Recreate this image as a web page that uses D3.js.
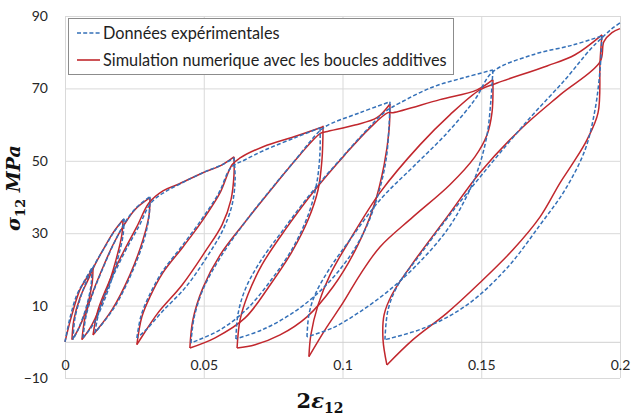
<!DOCTYPE html>
<html><head><meta charset="utf-8">
<script src="https://cdn.jsdelivr.net/npm/d3@7"></script>
<style>body{margin:0;background:#fff} svg{display:block}</style>
</head><body>
<svg id="c" width="631" height="417"></svg>
<script>
const xTicks = [0, 0.05, 0.1, 0.15, 0.2];
const xTickLabels = ["0", "0.05", "0.1", "0.15", "0.2"];
const yTicks = [-10, 10, 30, 50, 70, 90];
const seriesNames = ["Données expérimentales", "Simulation numerique avec les boucles additives"];

// Experimental data: branches in loading order [2ε12, σ12]
const experimental = [
  [[0,0],[0.0018,6.6],[0.0043,13.0],[0.0072,17.1],[0.0097,20.4]],
  [[0.0097,20.4],[0.0094,15.7],[0.0076,9.4],[0.0050,3.9],[0.0029,0.6]],
  [[0.0029,0.6],[0.0036,6.6],[0.0058,12.7],[0.0083,17.7],[0.0112,22.1],[0.0144,26.2],[0.0177,30.4],[0.0213,34.0]],
  [[0.0213,34.0],[0.0209,29.3],[0.0187,22.1],[0.0148,12.7],[0.0101,4.7],[0.0065,1.1]],
  [[0.0065,1.1],[0.0076,7.2],[0.0101,13.5],[0.0137,20.4],[0.0177,27.3],[0.0216,32.9],[0.0256,37.0],[0.0306,40.1]],
  [[0.0306,40.1],[0.0303,34.8],[0.0285,28.2],[0.0241,19.1],[0.0177,9.4],[0.0108,2.5]],
  [[0.0108,2.5],[0.0126,9.4],[0.0169,17.4],[0.0216,24.9],[0.0267,32.0],[0.0310,38.4],[0.0360,41.4],[0.0414,43.6],[0.0505,47.0],[0.0566,48.9],[0.0609,50.8]],
  [[0.0609,50.8],[0.0613,44.8],[0.0602,37.8],[0.0569,30.9],[0.0512,23.5],[0.0436,15.2],[0.0350,8.3],[0.0292,3.3],[0.0259,1.1]],
  [[0.0259,1.1],[0.0274,7.2],[0.0303,12.7],[0.0350,19.3],[0.0422,26.5],[0.0494,34.0],[0.0555,41.2],[0.0598,48.1],[0.0649,50.3],[0.0721,53.0],[0.0836,56.6],[0.0919,59.1]],
  [[0.0919,59.1],[0.0919,52.5],[0.0908,44.2],[0.0879,35.6],[0.0825,26.5],[0.0746,17.4],[0.0656,9.1],[0.0559,3.3],[0.0454,-0.3]],
  [[0.0454,-0.3],[0.0465,6.6],[0.0497,14.4],[0.0559,23.2],[0.0649,33.1],[0.0746,42.5],[0.0836,50.8],[0.0901,56.9],[0.0937,59.4],[0.1063,63.3],[0.1171,66.3]],
  [[0.1171,66.3],[0.1168,59.9],[0.1157,50.3],[0.1128,40.6],[0.1081,30.9],[0.1009,21.8],[0.0912,13.5],[0.0811,7.5],[0.0710,3.3],[0.0616,0.8]],
  [[0.0616,0.8],[0.0623,7.5],[0.0649,14.4],[0.0703,22.1],[0.0786,30.9],[0.0890,41.4],[0.0991,50.3],[0.1081,58.0],[0.1153,63.5],[0.1207,66.0],[0.1326,70.4],[0.1449,73.2],[0.1542,75.1]],
  [[0.1542,75.1],[0.1535,66.9],[0.1521,57.2],[0.1488,47.5],[0.1441,39.2],[0.1377,30.9],[0.1279,22.1],[0.1171,14.4],[0.1063,8.3],[0.0966,3.9],[0.0872,1.4]],
  [[0.0872,1.4],[0.0879,7.5],[0.0901,13.0],[0.0955,20.4],[0.1027,28.2],[0.1135,39.2],[0.1254,48.3],[0.1377,57.7],[0.1477,66.9],[0.1542,74.6],[0.1686,79.3],[0.1831,82.0],[0.1935,84.5]],
  [[0.1935,84.5],[0.1928,75.1],[0.1910,64.1],[0.1874,53.0],[0.1802,42.0],[0.1712,32.3],[0.1593,20.4],[0.1449,10.2],[0.1297,3.9],[0.1153,0.6]],
  [[0.1153,0.6],[0.1164,8.8],[0.1200,15.7],[0.1279,24.0],[0.1387,35.1],[0.1532,48.9],[0.1676,61.9],[0.1802,72.4],[0.1892,80.7],[0.1935,84.0],[0.1971,86.5],[0.2,88.1]]
];

// Numerical simulation: branches in loading order [2ε12, σ12]
const simulation = [
  [[0,0],[0.0025,7.5],[0.0054,14.4],[0.0083,18.2],[0.0101,20.4]],
  [[0.0101,20.4],[0.0097,15.7],[0.0076,8.8],[0.0047,3.3],[0.0025,0.6]],
  [[0.0025,0.6],[0.0032,6.1],[0.0054,12.2],[0.0083,17.1],[0.0108,21.3],[0.0137,25.4],[0.0173,30.1],[0.0209,33.7]],
  [[0.0209,33.7],[0.0205,29.6],[0.0184,22.7],[0.0144,13.0],[0.0097,4.7],[0.0061,0.6]],
  [[0.0061,0.6],[0.0072,6.6],[0.0097,13.0],[0.0133,19.9],[0.0173,26.8],[0.0213,32.3],[0.0252,36.5],[0.0306,39.8]],
  [[0.0306,39.8],[0.0303,35.1],[0.0281,28.2],[0.0234,18.5],[0.0169,8.8],[0.0101,1.9]],
  [[0.0101,1.9],[0.0119,8.8],[0.0162,17.1],[0.0209,24.6],[0.0259,31.8],[0.0303,38.4],[0.0353,41.7],[0.0404,43.4],[0.0497,46.7],[0.0559,48.6],[0.0609,51.1]],
  [[0.0609,51.1],[0.0609,46.1],[0.0598,39.2],[0.0566,32.3],[0.0505,24.9],[0.0422,15.7],[0.0335,8.0],[0.0277,1.4],[0.0259,-0.8]],
  [[0.0259,-0.8],[0.0277,6.9],[0.0306,12.4],[0.0353,19.1],[0.0425,26.2],[0.0497,33.7],[0.0559,41.2],[0.0602,48.9],[0.0631,50.8],[0.0714,53.9],[0.0836,56.9],[0.0930,59.4]],
  [[0.0930,59.7],[0.0926,50.3],[0.0912,42.0],[0.0876,33.7],[0.0818,24.9],[0.0739,15.7],[0.0649,6.6],[0.0541,1.1],[0.0450,-1.7]],
  [[0.0450,-1.7],[0.0461,6.1],[0.0497,14.9],[0.0559,24.0],[0.0649,33.1],[0.0757,43.4],[0.0847,51.7],[0.0919,57.5],[0.0940,58.0],[0.1045,59.9],[0.1124,61.9],[0.1171,65.7]],
  [[0.1171,65.7],[0.1168,58.6],[0.1150,48.9],[0.1114,37.8],[0.1052,26.2],[0.0966,15.2],[0.0872,6.9],[0.0775,1.9],[0.0685,-0.8],[0.0620,-1.7]],
  [[0.0620,-1.7],[0.0631,6.1],[0.0659,13.0],[0.0710,21.3],[0.0793,30.9],[0.0901,42.0],[0.1009,51.7],[0.1099,59.1],[0.1164,63.3],[0.1182,63.3],[0.1351,66.9],[0.1485,69.6],[0.1542,72.4]],
  [[0.1542,72.4],[0.1539,63.5],[0.1521,57.2],[0.1477,51.1],[0.1387,43.4],[0.1254,34.5],[0.1135,26.2],[0.1063,18.5],[0.1002,10.8],[0.0937,3.3],[0.0879,-4.1]],
  [[0.0879,-4.1],[0.0886,1.9],[0.0912,10.2],[0.0955,18.5],[0.1027,28.2],[0.1135,41.2],[0.1279,54.4],[0.1387,62.7],[0.1495,69.6],[0.1557,71.5],[0.1737,76.2],[0.1838,79.3],[0.1935,84.8]],
  [[0.1935,84.8],[0.1928,77.3],[0.1921,63.3],[0.1881,55.8],[0.1831,49.4],[0.1784,43.9],[0.1712,34.5],[0.1614,25.4],[0.1495,16.3],[0.1377,8.0],[0.1254,0.6],[0.1160,-6.4]],
  [[0.1160,-6.4],[0.1146,0.6],[0.1150,7.5],[0.1178,13.0],[0.1254,21.8],[0.1377,34.5],[0.1495,46.7],[0.1640,58.6],[0.1784,68.2],[0.1928,77.3],[0.1942,82.9],[0.1971,85.4],[0.2,86.5]]
];

const colors = {exp: "#3470b8", sim: "#c1272d"};
const svg = d3.select("#c");
const x = d3.scaleLinear().domain([0, 0.2]).range([65, 620]);
const y = d3.scaleLinear().domain([-10, 90]).range([378, 16]);

// gridlines
svg.append("g").attr("transform", `translate(${x(0)},0)`)
  .call(d3.axisLeft(y).tickValues(yTicks).tickSize(-(x(0.2) - x(0))).tickFormat(""))
  .call(g => g.select(".domain").remove())
  .call(g => g.selectAll("line").attr("stroke", "#d9d9d9").attr("stroke-width", 1));
svg.append("g").attr("transform", `translate(0,${y(-10)})`)
  .call(d3.axisBottom(x).tickValues(xTicks).tickSize(-(y(-10) - y(90))).tickFormat(""))
  .call(g => g.select(".domain").remove())
  .call(g => g.selectAll("line").attr("stroke", "#d9d9d9").attr("stroke-width", 1));

// horizontal axis at 0 with labels
svg.append("g").attr("transform", `translate(0,${y(0)})`)
  .call(d3.axisBottom(x).tickValues(xTicks).tickFormat((d, i) => xTickLabels[i]).tickSize(0).tickPadding(18))
  .call(g => g.select(".domain").attr("stroke", "#d0d0d0"))
  .call(g => g.selectAll("text").attr("font-family", "Lato, 'Open Sans', sans-serif").attr("font-size", 14).attr("fill", "#262626"));

// vertical axis labels
svg.append("g").attr("transform", `translate(${x(0)},0)`)
  .call(d3.axisLeft(y).tickValues(yTicks).tickSize(0).tickPadding(17))
  .call(g => g.select(".domain").remove())
  .call(g => g.selectAll("text").attr("font-family", "Lato, 'Open Sans', sans-serif").attr("font-size", 14).attr("fill", "#262626"));

const line = d3.line().x(d => x(d[0])).y(d => y(d[1])).curve(d3.curveCatmullRom.alpha(0.5));

svg.append("g").selectAll("path").data(simulation).join("path")
  .attr("d", line).attr("fill", "none").attr("stroke", colors.sim).attr("stroke-width", 1.5)
  .attr("stroke-linejoin", "round");
svg.append("g").selectAll("path").data(experimental).join("path")
  .attr("d", line).attr("fill", "none").attr("stroke", colors.exp).attr("stroke-width", 1.5)
  .attr("stroke-dasharray", "4,2.2");

// legend
const lg = svg.append("g");
lg.append("rect").attr("x", 68.5).attr("y", 18.5).attr("width", 385).attr("height", 56)
  .attr("fill", "#fff").attr("stroke", "#8c8c8c").attr("stroke-width", 1);
const legendItems = [
  {name: seriesNames[0], color: colors.exp, dash: "4,2.2", cy: 33},
  {name: seriesNames[1], color: colors.sim, dash: null, cy: 60}
];
legendItems.forEach(it => {
  lg.append("line").attr("x1", 77).attr("x2", 100).attr("y1", it.cy).attr("y2", it.cy)
    .attr("stroke", it.color).attr("stroke-width", 1.6).attr("stroke-dasharray", it.dash);
  it.t = lg.append("text").attr("x", 103).attr("y", it.cy).attr("dy", "0.35em")
    .attr("font-family", "Lato, 'Open Sans', sans-serif").attr("font-size", 14).attr("fill", "#1e1e1e").text(it.name);
});
const L = legendItems[1].t.node().getComputedTextLength();
const fs = 14 * 344 / L;
legendItems.forEach(it => it.t.attr("font-size", fs));

// axis titles
const serif = "'DejaVu Serif', 'Liberation Serif', serif";
const yt = svg.append("text").attr("transform", "translate(20,188) rotate(-90)")
  .attr("text-anchor", "middle").attr("font-family", serif).attr("font-weight", "bold")
  .attr("font-size", 19).attr("fill", "#111");
yt.append("tspan").attr("font-style", "italic").text("σ");
yt.append("tspan").attr("font-size", 13).attr("dy", 5).text("12");
yt.append("tspan").attr("dy", -5).attr("font-style", "italic").text(" MPa");

const xt = svg.append("text").attr("x", 320).attr("y", 408)
  .attr("text-anchor", "middle").attr("font-family", serif).attr("font-weight", "bold")
  .attr("font-size", 21).attr("fill", "#111");
xt.append("tspan").text("2");
xt.append("tspan").attr("font-style", "italic").text("ε");
xt.append("tspan").attr("font-size", 14).attr("dy", 5).text("12");
</script>
</body></html>
